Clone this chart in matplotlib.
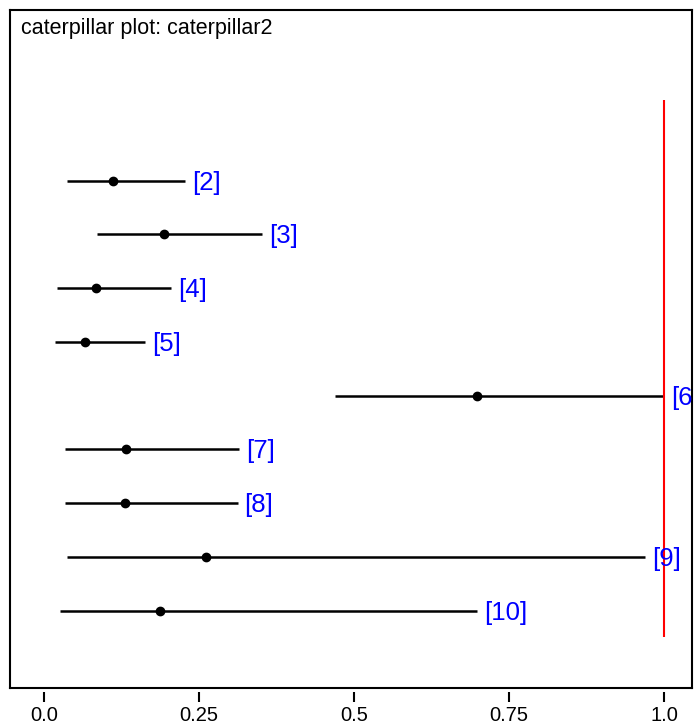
import matplotlib
matplotlib.use("Agg")
import matplotlib.pyplot as plt

plt.rcParams['font.family'] = ['Liberation Sans', 'DejaVu Sans']

# ---- data ----
labels = ['[2]', '[3]', '[4]', '[5]', '[6]', '[7]', '[8]', '[9]', '[10]']
rows = [2, 3, 4, 5, 6, 7, 8, 9, 10]
median = [0.111, 0.194, 0.084, 0.066, 0.698, 0.132, 0.131, 0.261, 0.187]
lower = [0.037, 0.086, 0.021, 0.018, 0.469, 0.034, 0.034, 0.037, 0.025]
upper = [0.227, 0.351, 0.205, 0.163, 1.000, 0.315, 0.312, 0.969, 0.698]
ref_value = 1.0
n_items = 10
tick_values = [0.0, 0.25, 0.5, 0.75, 1.0]
tick_labels = ['0.0', '0.25', '0.5', '0.75', '1.0']
title = 'caterpillar plot: caterpillar2'

fig = plt.figure(figsize=(6.95, 7.25), dpi=100)
ax = fig.add_axes([10/695, 1 - 688/725, 682/695, 678/725])

ax.hlines(rows, lower, upper, color='black', linewidth=1.8, zorder=2)
ax.plot(median, rows, 'o', color='black', markersize=6, zorder=3)
ax.vlines(ref_value, 0.5, n_items + 0.5, color='red', linewidth=1.5, zorder=4)

for lab, r, u in zip(labels, rows, upper):
    ax.annotate(lab, xy=(u, r), xytext=(5, -1.5), textcoords='offset points',
                ha='left', va='center', color='blue', fontsize=18.5,
                annotation_clip=False, clip_on=True, zorder=5)

ax.set_xlim(-0.055, 1.045)
ax.set_ylim(11.44, -1.175)

ax.set_yticks([])
ax.tick_params(axis='x', bottom=False, labelbottom=False)
for s in ax.spines.values():
    s.set_linewidth(1.5)
    s.set_color('black')

sec = ax.secondary_xaxis(-0.006)
sec.spines['bottom'].set_visible(False)
sec.set_xticks(tick_values)
sec.set_xticklabels(tick_labels)
sec.tick_params(axis='x', length=7, width=1.5, pad=3, labelsize=14.5)

ax.text(0.016, 0.973, title, transform=ax.transAxes, ha='left', va='center',
        fontsize=15.5, color='black')

fig.savefig('out.png', dpi=100)
